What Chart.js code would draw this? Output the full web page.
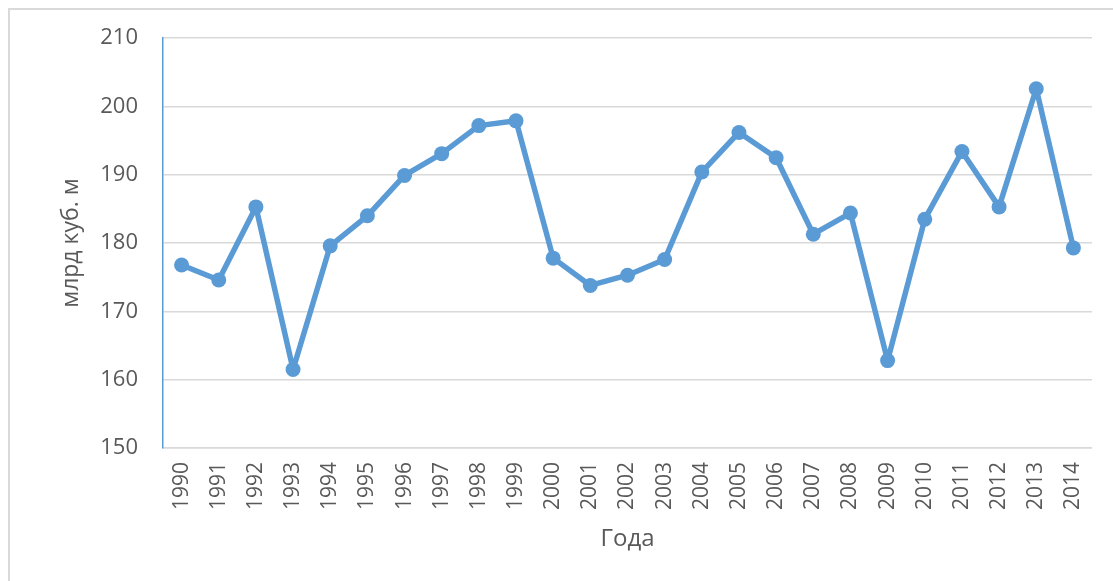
<!DOCTYPE html>
<html>
<head>
<meta charset="utf-8">
<script src="https://cdn.jsdelivr.net/npm/chart.js@4"></script>
<style>
  body { margin: 0; background: #fff; overflow: hidden; }
  #frame { position: absolute; left: 8px; top: 8px; width: 1200px; height: 700px; border: 2px solid #d9d9d9; }
  #chart { position: absolute; left: 0; top: 0; }
</style>
</head>
<body>
<div id="frame"></div>
<canvas id="chart" width="1113" height="581"></canvas>
<script>
'use strict';

// years on the x axis
const years = ['1990', '1991', '1992', '1993', '1994', '1995', '1996', '1997', '1998', '1999',
  '2000', '2001', '2002', '2003', '2004', '2005', '2006', '2007', '2008', '2009',
  '2010', '2011', '2012', '2013', '2014'];

// values, billion cubic metres
const volumes = [176.8, 174.6, 185.3, 161.5, 179.6, 184.0, 189.9, 193.1, 197.2, 197.9,
  177.8, 173.8, 175.3, 177.6, 190.4, 196.2, 192.5, 181.3, 184.4, 162.8,
  183.5, 193.4, 185.3, 202.6, 179.3];

const yMin = 150;
const yMax = 210;
const yStep = 10;

const lineColor = '#5b9bd5';
const textColor = '#595959';
const fontFamily = '"Open Sans", "Noto Sans", sans-serif';

let ctx = document.getElementById('chart').getContext('2d');

let myChart = new Chart(ctx, {
  type: 'line',
  data: {
    labels: years,
    datasets: [{
      data: volumes,
      borderColor: lineColor,
      backgroundColor: lineColor,
      borderWidth: 5.5,
      borderJoinStyle: 'round',
      borderCapStyle: 'round',
      pointRadius: 7.5,
      pointHoverRadius: 7.5,
      pointBorderWidth: 0,
      tension: 0
    }]
  },
  options: {
    responsive: false,
    animation: false,
    layout: { padding: { left: 58, top: 38, right: 20, bottom: 27 } },
    plugins: {
      legend: { display: false },
      tooltip: { enabled: false }
    },
    scales: {
      x: {
        offset: true,
        grid: { display: false, drawTicks: false },
        border: { color: '#d9d9d9', width: 1.5 },
        ticks: {
          color: textColor,
          font: { family: fontFamily, size: 21 },
          minRotation: 90,
          maxRotation: 90,
          padding: 14,
          autoSkip: false
        },
        title: {
          display: true,
          text: 'Года',
          color: textColor,
          font: { family: fontFamily, size: 24 },
          padding: 0
        },
        afterFit: function (scale) { scale.height = 106; }
      },
      y: {
        min: yMin,
        max: yMax,
        grid: { color: '#d9d9d9', lineWidth: 1.5, drawTicks: false },
        border: { color: lineColor, width: 1.5 },
        ticks: {
          stepSize: yStep,
          color: textColor,
          font: { family: fontFamily, size: 22 },
          padding: 25
        },
        title: {
          display: true,
          text: 'млрд куб. м',
          color: textColor,
          font: { family: fontFamily, size: 23 },
          padding: 0
        },
        afterFit: function (scale) { scale.width = 105; }
      }
    }
  }
});
</script>
</body>
</html>
